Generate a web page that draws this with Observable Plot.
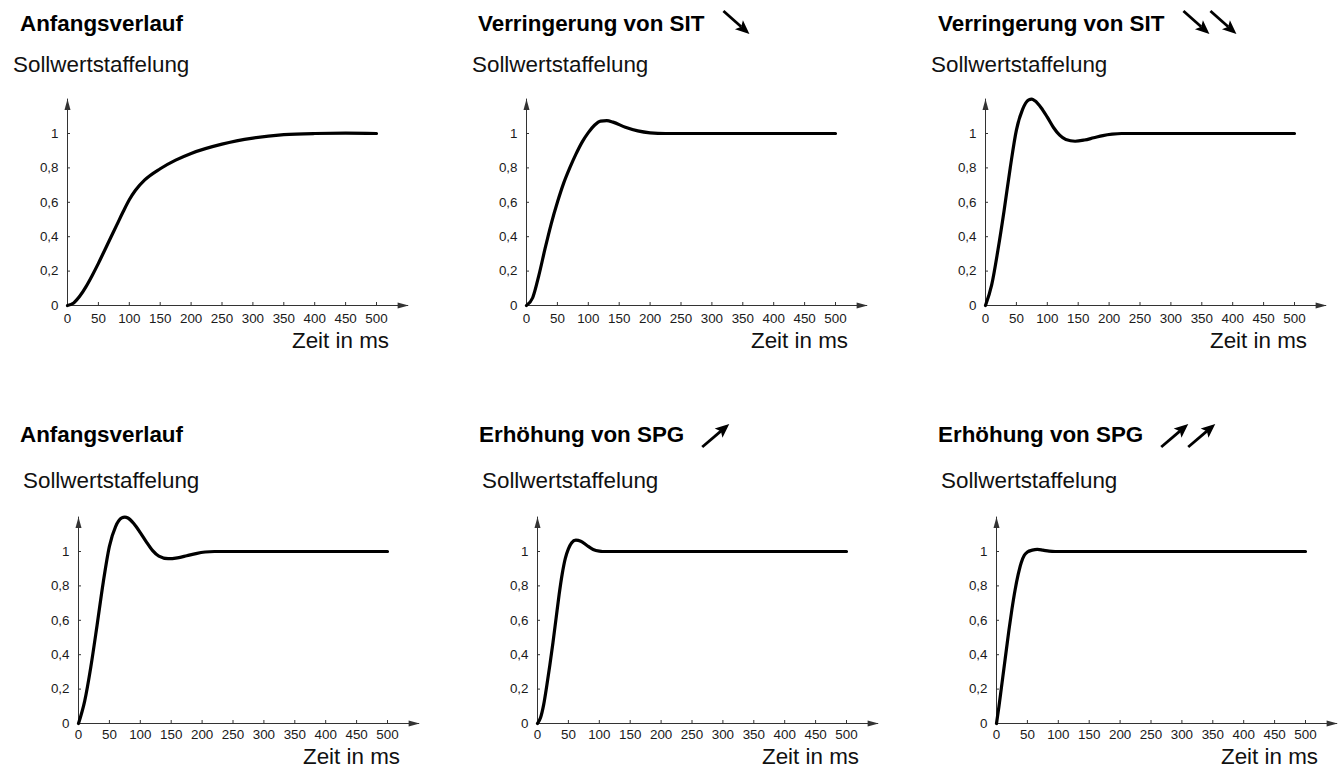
<!DOCTYPE html>
<html><head><meta charset="utf-8">
<script src="https://cdn.jsdelivr.net/npm/d3@7"></script>
<script src="https://cdn.jsdelivr.net/npm/@observablehq/plot@0.6"></script>
<style>
html,body{margin:0;padding:0;background:#fff;overflow:hidden;}
#root{position:relative;width:1340px;height:769px;overflow:hidden;font-family:"Liberation Sans",Arial,Helvetica,sans-serif;}
.panel{position:absolute;}
.panel svg{max-width:none !important;display:block;}
#overlay{position:absolute;left:0;top:0;}
</style></head><body><div id="root"></div>
<script>
// ---- data ----
const xTicks = [0, 50, 100, 150, 200, 250, 300, 350, 400, 450, 500];
const yTicks = [0, 0.2, 0.4, 0.6, 0.8, 1];
const yTickLabels = ["0", "0,2", "0,4", "0,6", "0,8", "1"];
const xAxisLabel = "Zeit in ms";
const yAxisTitle = "Sollwertstaffelung";
const panelTitles = ["Anfangsverlauf", "Verringerung von SIT", "Verringerung von SIT", "Anfangsverlauf", "Erhöhung von SPG", "Erhöhung von SPG"];
const titleArrowCounts = [0, 1, 2, 0, 1, 2];
const titleArrowDirections = ["none", "down", "down", "none", "up", "up"];

const time1 = [0, 10, 20, 30, 40, 50, 60, 70, 80, 90, 100, 110, 125, 150, 175, 200, 250, 300, 350, 400, 450, 500];
const value1 = [0, 0.015, 0.055, 0.11, 0.175, 0.245, 0.32, 0.395, 0.47, 0.545, 0.615, 0.67, 0.73, 0.795, 0.845, 0.884, 0.938, 0.973, 0.993, 1.0, 1.002, 1.0];

const time2 = [0, 10, 20, 30, 40, 50, 60, 70, 80, 90, 100, 110, 120, 130, 140, 160, 180, 200, 225, 250, 500];
const value2 = [0, 0.045, 0.175, 0.33, 0.475, 0.6, 0.71, 0.8, 0.88, 0.95, 1.005, 1.048, 1.072, 1.075, 1.066, 1.036, 1.015, 1.004, 1.0, 1.0, 1.0];

const time3 = [0, 10, 20, 30, 40, 50, 60, 70, 75, 80, 90, 100, 110, 120, 130, 145, 160, 175, 190, 205, 220, 500];
const value3 = [0, 0.12, 0.32, 0.55, 0.8, 1.02, 1.14, 1.195, 1.2, 1.19, 1.15, 1.095, 1.035, 0.99, 0.965, 0.955, 0.962, 0.975, 0.988, 0.996, 1.0, 1.0];

const time4 = [0, 10, 20, 30, 40, 50, 60, 70, 75, 80, 90, 100, 110, 120, 130, 145, 160, 175, 190, 205, 220, 500];
const value4 = [0, 0.13, 0.33, 0.57, 0.82, 1.03, 1.145, 1.195, 1.2, 1.195, 1.16, 1.11, 1.055, 1.005, 0.973, 0.958, 0.963, 0.975, 0.988, 0.997, 1.0, 1.0];

const time5 = [0, 5, 10, 15, 20, 25, 30, 35, 40, 45, 50, 55, 62, 70, 80, 90, 100, 105, 500];
const value5 = [0, 0.035, 0.11, 0.22, 0.34, 0.47, 0.61, 0.75, 0.87, 0.96, 1.015, 1.05, 1.066, 1.06, 1.035, 1.012, 1.002, 1.0, 1.0];

const time6 = [0, 4, 8, 12, 16, 20, 25, 30, 35, 40, 45, 50, 58, 66, 75, 85, 95, 500];
const value6 = [0, 0.1, 0.21, 0.32, 0.43, 0.54, 0.665, 0.775, 0.865, 0.935, 0.978, 0.997, 1.008, 1.012, 1.008, 1.002, 1.0, 1.0];

const panelTimes = [time1, time2, time3, time4, time5, time6];
const panelValues = [value1, value2, value3, value4, value5, value6];

// ---- layout ----
const xAxisEnd = 552;   // axis arrow tip (ms)
const yAxisEnd = 1.2;   // axis arrow tip (value)
const layout = [
  {ax: 67,  y0: 305, titleX: 20,  titleY: 31,  subX: 13,  subY: 71.5, zeitY: 348, pad: 8},
  {ax: 526, y0: 305, titleX: 478, titleY: 31,  subX: 472, subY: 71.5, zeitY: 348, pad: 8},
  {ax: 985, y0: 305, titleX: 938, titleY: 31,  subX: 931, subY: 71.5, zeitY: 348, pad: 8},
  {ax: 78,  y0: 723, titleX: 20,  titleY: 442, subX: 23,  subY: 488, zeitY: 764, pad: 6},
  {ax: 537, y0: 723, titleX: 479, titleY: 442, subX: 482, subY: 488, zeitY: 764, pad: 6},
  {ax: 996, y0: 723, titleX: 938, titleY: 442, subX: 941, subY: 488, zeitY: 764, pad: 6}
];
const ML = 50, MT = 78, PW = 309, PH = 172, W = 400, H = 290;
const axisColor = "#333";
const textColor = "#1a1a1a";
const font = '"Liberation Sans", Arial, Helvetica, sans-serif';
const bigFont = 22.4;

const root = document.getElementById("root");

layout.forEach((L, k) => {
  const data = panelTimes[k].map((t, i) => ({t, v: panelValues[k][i]}));
  const chart = Plot.plot({
    width: W, height: H,
    marginLeft: ML, marginRight: W - ML - PW, marginTop: MT, marginBottom: H - MT - PH,
    x: {domain: [0, 500], axis: null},
    y: {domain: [0, 1], axis: null},
    style: {fontFamily: font, fontSize: "13.4px", color: textColor, background: "transparent", overflow: "visible"},
    marks: [
      Plot.ruleY([0], {x1: 0, x2: xAxisEnd, stroke: axisColor, strokeWidth: 1}),
      Plot.ruleX([0], {y1: 0, y2: yAxisEnd, stroke: axisColor, strokeWidth: 1}),
      Plot.vector([0], {x: xAxisEnd, y: 0, rotate: 90, length: 11, r: 3, shape: "spike", anchor: "end", fill: axisColor, stroke: "none"}),
      Plot.vector([0], {x: 0, y: yAxisEnd, rotate: 0, length: 11, r: 3, shape: "spike", anchor: "end", fill: axisColor, stroke: "none"}),
      Plot.ruleX(xTicks, {x: d => d, y1: 0, y2: 0, insetBottom: 3, stroke: axisColor}),
      Plot.ruleY(yTicks, {y: d => d, x1: 0, x2: 0, insetRight: -3, stroke: axisColor}),
      Plot.axisX({ticks: xTicks, tickSize: 0, tickPadding: L.pad, label: null, fill: textColor, fontSize: 13.4, tickFormat: d => String(d)}),
      Plot.axisY({ticks: yTicks, tickSize: 0, tickPadding: 9, label: null, fill: textColor, fontSize: 13.4, tickFormat: d => yTickLabels[yTicks.indexOf(d)]}),
      Plot.line(data, {x: "t", y: "v", curve: "monotone-x", stroke: "#000", strokeWidth: 3.2, strokeLinejoin: "round"})
    ]
  });
  const wrap = document.createElement("div");
  wrap.className = "panel";
  wrap.style.left = (L.ax - ML) + "px";
  wrap.style.top = (L.y0 - (MT + PH)) + "px";
  wrap.style.width = W + "px";
  wrap.style.height = H + "px";
  wrap.appendChild(chart);
  root.appendChild(wrap);
});

// ---- titles, subtitles, axis titles, title arrows ----
const overlay = d3.select(root).append("svg").attr("id", "overlay")
  .attr("width", 1340).attr("height", 769)
  .style("font-family", font);

function arrow(g, x0, y0, x1, y1) {
  const dx = x1 - x0, dy = y1 - y0, len = Math.hypot(dx, dy);
  const ux = dx / len, uy = dy / len, px = -uy, py = ux;
  const hl = 14, hw = 6;
  const bx = x1 - ux * hl, by = y1 - uy * hl;
  g.append("line").attr("x1", x0).attr("y1", y0).attr("x2", bx + ux * 3).attr("y2", by + uy * 3)
    .attr("stroke", "#000").attr("stroke-width", 2.8);
  g.append("path")
    .attr("d", `M${x1},${y1}L${bx + px * hw},${by + py * hw}L${bx + ux * 3},${by + uy * 3}L${bx - px * hw},${by - py * hw}Z`)
    .attr("fill", "#000");
}

layout.forEach((L, k) => {
  const t = overlay.append("text").attr("x", L.titleX).attr("y", L.titleY)
    .attr("font-size", bigFont).attr("font-weight", "bold").attr("fill", "#000")
    .text(panelTitles[k]);
  const end = L.titleX + t.node().getComputedTextLength();
  for (let a = 0; a < titleArrowCounts[k]; a++) {
    const off = a * 27;
    if (titleArrowDirections[k] === "down") {
      arrow(overlay, end + 19 + off, L.titleY - 20, end + 45 + off, L.titleY + 3);
    } else {
      arrow(overlay, end + 18 + off, L.titleY + 5, end + 45 + off, L.titleY - 18);
    }
  }
  overlay.append("text").attr("x", L.subX).attr("y", L.subY)
    .attr("font-size", bigFont).attr("fill", "#111").text(yAxisTitle);
  overlay.append("text").attr("x", L.ax + 322).attr("y", L.zeitY)
    .attr("text-anchor", "end").attr("font-size", bigFont).attr("fill", "#111").text(xAxisLabel);
});
</script></body></html>
